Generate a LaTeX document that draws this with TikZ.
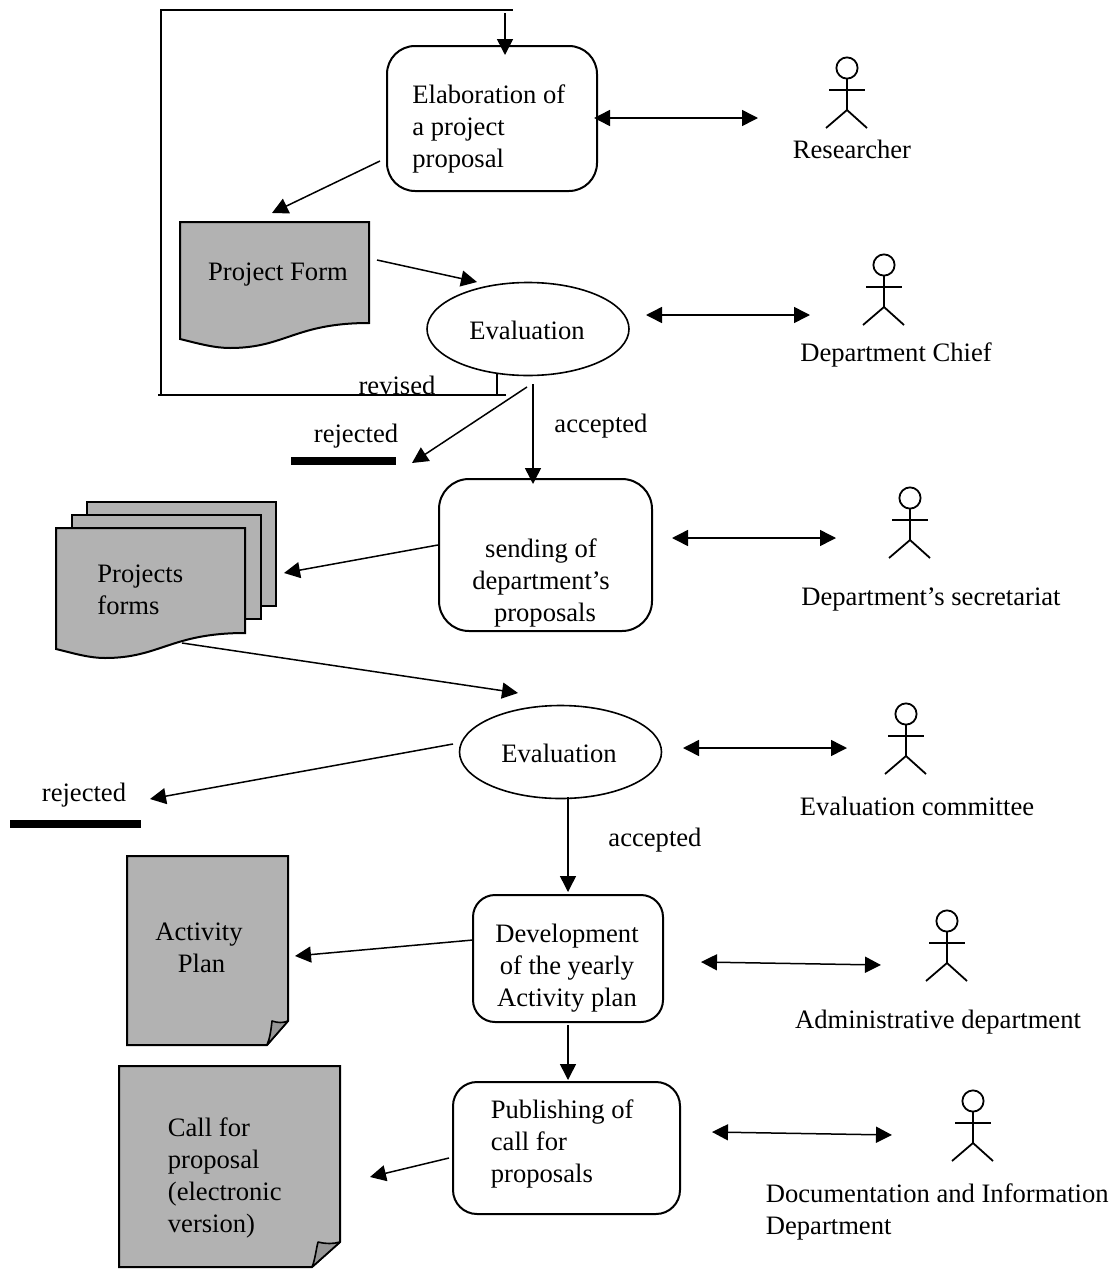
\documentclass[tikz,border=0pt]{standalone}
\usepackage{fontspec}
\setmainfont{Liberation Serif}
\usetikzlibrary{arrows.meta,calc,shapes.geometric}
\definecolor{docgray}{HTML}{B2B2B2}
\definecolor{foldgray}{HTML}{969696}
\tikzset{
  txt/.style={font=\fontsize{13.3}{16}\selectfont,inner sep=0pt,align=left},
  ctxt/.style={font=\fontsize{13.3}{16}\selectfont,inner sep=0pt,align=center},
  procbox/.style={draw=black,line width=1pt,rectangle,inner sep=0pt},
  evalell/.style={draw=black,line width=0.8pt,ellipse,inner sep=0pt,minimum width=101pt,minimum height=46.5pt},
  stopbar/.style={fill=black,rectangle,inner sep=0pt},
  doc/.style={draw=black,line width=1pt,fill=docgray},
  fold/.style={draw=black,line width=0.8pt,fill=foldgray,line join=round},
  flow/.style={draw=black,line width=0.75pt,-{Triangle[length=8pt,width=8pt]}},
  duplex/.style={draw=black,line width=0.75pt,{Triangle[length=8pt,width=8pt]}-{Triangle[length=8pt,width=8pt]}},
  loopline/.style={draw=black,line width=0.8pt},
  actor/.pic={
    \coordinate (-c) at (0,0);
    \draw[line width=0.9pt] (0,0) circle[radius=5.3pt];
    \draw[line width=0.9pt] (0,11) -- (0,42);
    \draw[line width=0.9pt] (-18,22) -- (18,22);
    \draw[line width=0.9pt] (-21,60) -- (0,42) -- (20,60);
  }
}
\begin{document}
\begin{tikzpicture}[x=0.5pt,y=-0.5pt]
\useasboundingbox (0,0) rectangle (1114,1269);

% process boxes
\node[procbox,rounded corners=14pt,minimum width=105pt,minimum height=72.5pt] (elab) at (492,118.5) {};
\node[txt,anchor=west] at (412,129) {Elaboration of\\a project\\proposal};
\node[procbox,rounded corners=15pt,minimum width=106.5pt,minimum height=76pt] (sending) at (545.5,555) {};
\node[ctxt] at (541,583) {sending of\\department’s\\\hspace*{4pt}proposals};
\node[procbox,rounded corners=11pt,minimum width=95pt,minimum height=63.5pt] (dev) at (568,958.5) {};
\node[ctxt] at (567,968) {Development\\of the yearly\\Activity plan};
\node[procbox,rounded corners=12pt,minimum width=113.5pt,minimum height=66pt] (pub) at (566.5,1148) {};
\node[txt,anchor=west] at (490.5,1143.5) {Publishing of\\call for\\proposals};

% decisions
\node[evalell] (evalA) at (528,329) {};
\node[ctxt] at (527,330) {Evaluation};
\node[evalell] (evalB) at (560.5,752) {};
\node[ctxt] at (559,753) {Evaluation};

% rejection bars
\node[stopbar,minimum width=52.5pt,minimum height=4pt] (barA) at (343.5,461) {};
\node[stopbar,minimum width=65.5pt,minimum height=4pt] (barB) at (75.5,824) {};

% documents
\coordinate (formC) at (275,285);
\coordinate (formsC) at (150,590);
\coordinate (actC) at (207,950);
\coordinate (callC) at (230,1166);
\draw[doc] (180,222) -- (369,222) -- (369,323) .. controls (295,323) and (285,348) .. (230,348) .. controls (215,348) and (200,344) .. (180,339) -- cycle;
\node[ctxt] at (278,275) {Project Form};

\draw[doc] (87,502) rectangle (276,606);
\draw[doc] (72,515) rectangle (261,619);
\draw[doc] (56,528) -- (245,528) -- (245,633) .. controls (171,633) and (160,658) .. (105,658) .. controls (90,658) and (76,654) .. (56,649) -- cycle;
\node[txt,anchor=west] at (97,590) {Projects\\forms};

\draw[doc] (127,856) -- (288,856) -- (288,1021) -- (267,1045) -- (127,1045) -- cycle;
\draw[fold] (267,1045) .. controls (270,1038) and (271,1030) .. (272,1021) .. controls (278,1023) and (283,1023) .. (288,1021) -- cycle;
\node[ctxt] at (199,948) {Activity\\\hspace*{2.5pt}Plan};

\draw[doc] (119,1066) -- (340,1066) -- (340,1242) -- (312,1267) -- (119,1267) -- cycle;
\draw[fold] (312,1267) .. controls (315,1260) and (316,1250) .. (318,1242) .. controls (326,1244) and (333,1244) .. (340,1242) -- cycle;
\node[txt,anchor=west] at (167.5,1178) {Call for\\proposal\\(electronic\\version)};

% actors
\pic (researcher) at (847,68) {actor};
\pic (chief) at (884,265) {actor};
\pic (secret) at (910,498) {actor};
\pic (committee) at (906,714) {actor};
\pic (admin) at (947,921) {actor};
\pic (docdept) at (973,1101) {actor};
\node[ctxt] at (852,149) {Researcher};
\node[ctxt] at (896,355) {Department Chief};
\node[ctxt] at (931,599) {Department’s secretariat};
\node[ctxt] at (917,806) {Evaluation committee};
\node[ctxt] at (938,1022) {Administrative department};
\node[txt,anchor=west] at (765.5,1211.5) {Documentation and Information\\Department};

% edge labels
\node[ctxt] at (397,385) {revised};
\node[ctxt] at (356,436) {rejected};
\node[ctxt] at (601,426) {accepted};
\node[ctxt] at (84,795) {rejected};
\node[ctxt] at (655,840) {accepted};

% revision loop
\coordinate (loopTick) at (497,395);
\coordinate (loopEnd) at (506,395);
\coordinate (loopBL) at (158,395);
\coordinate (loopL) at (161,395);
\coordinate (loopTL) at (161,10);
\coordinate (loopTR) at (513,10);
\coordinate (loopDrop) at (505,13);
\draw[loopline] ($(evalA)+(-31,44)$) -- (loopTick);
\draw[loopline] (loopEnd) -- (loopBL);
\draw[loopline] (loopL) -- (loopTL) -- (loopTR);
\draw[flow] (loopDrop) -- ($(elab)+(13,-63.5)$);

% flows
\draw[flow] ($(elab)+(-112,42.5)$) -- ($(formC)+(-3,-72)$);
\draw[flow] ($(formC)+(102,-25)$) -- ($(evalA)+(-51,-47)$);
\draw[flow] ($(evalA)+(-1,58)$) -- ($(barA)+(68.5,2)$);
\draw[flow] ($(evalA)+(5,55)$) -- ($(sending)+(-12.5,-71)$);
\draw[flow] ($(sending)+(-107.5,-10)$) -- ($(formsC)+(134,-17)$);
\draw[flow] ($(formsC)+(32,53)$) -- ($(evalB)+(-42.5,-59)$);
\draw[flow] ($(evalB)+(-107.5,-8)$) -- ($(barB)+(74.5,-25)$);
\draw[flow] ($(evalB)+(7.5,45)$) -- ($(dev)+(0,-66.5)$);
\draw[flow] ($(dev)+(-95,-18.5)$) -- ($(actC)+(88,6)$);
\draw[flow] ($(dev)+(0,66.5)$) -- ($(pub)+(1.5,-68)$);
\draw[flow] ($(pub)+(-117.5,10)$) -- ($(callC)+(140,11)$);

% actor links
\draw[duplex] ($(elab)+(102,-0.5)$) -- ($(researcher-c)+(-89,50)$);
\draw[duplex] ($(evalA)+(118,-14)$) -- ($(chief-c)+(-74,50)$);
\draw[duplex] ($(sending)+(126.5,-17)$) -- ($(secret-c)+(-74,40)$);
\draw[duplex] ($(evalB)+(122.5,-4)$) -- ($(committee-c)+(-59,34)$);
\draw[duplex] ($(dev)+(133,3.5)$) -- ($(admin-c)+(-66,44)$);
\draw[duplex] ($(pub)+(145.5,-16)$) -- ($(docdept-c)+(-81,34)$);
\end{tikzpicture}
\end{document}
